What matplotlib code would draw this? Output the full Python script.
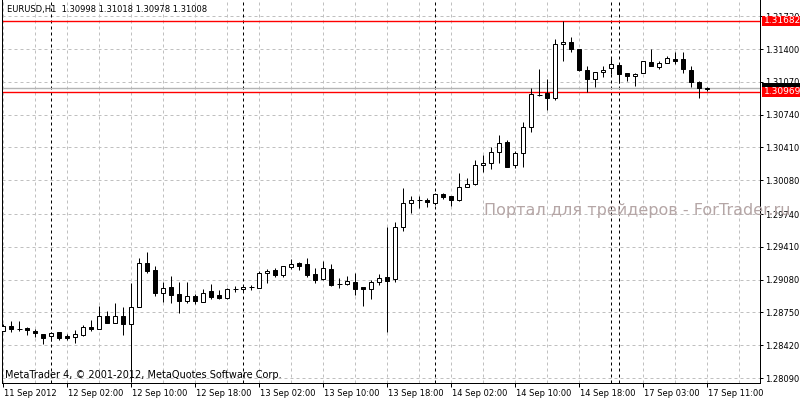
import matplotlib
matplotlib.use("Agg")
import matplotlib.pyplot as plt
from matplotlib.patches import Rectangle
from matplotlib import transforms

# EURUSD H1, one bar per hour, 11 Sep 2012 18:00 .. 17 Sep 2012 11:00
opens = [1.28566, 1.28613, 1.28586, 1.28593, 1.28566, 1.28530, 1.28510, 1.28550, 1.28513, 1.28506,
         1.28520, 1.28600, 1.28586, 1.28711, 1.28646, 1.28711, 1.28630, 1.28807, 1.29244, 1.29174,
         1.28948, 1.29003, 1.28935, 1.28865, 1.28915, 1.28858, 1.28965, 1.28925, 1.28898, 1.28988,
         1.28982, 1.29003, 1.28999, 1.29143, 1.29174, 1.29129, 1.29210, 1.29244, 1.29237, 1.29133,
         1.29083, 1.29184, 1.29033, 1.29033, 1.29053, 1.29006, 1.28982, 1.29053, 1.29103, 1.29083,
         1.29606, 1.29848, 1.29881, 1.29881, 1.29848, 1.29938, 1.29921, 1.29878, 1.30015, 1.30045,
         1.30230, 1.30250, 1.30364, 1.30461, 1.30233, 1.30351, 1.30612, 1.30940, 1.30957, 1.30904,
         1.31447, 1.31467, 1.31397, 1.31189, 1.31101, 1.31166, 1.31204, 1.31239, 1.31156, 1.31125,
         1.31156, 1.31269, 1.31222, 1.31262, 1.31300, 1.31300, 1.31189, 1.31068, 1.30998]
highs = [1.28633, 1.28663, 1.28663, 1.28600, 1.28580, 1.28533, 1.28553, 1.28552, 1.28536, 1.28573,
         1.28620, 1.28674, 1.28814, 1.28764, 1.28845, 1.28804, 1.29049, 1.29294, 1.29355, 1.29217,
         1.29053, 1.29116, 1.29053, 1.29056, 1.28935, 1.28985, 1.29036, 1.28975, 1.28999, 1.29013,
         1.29023, 1.29026, 1.29164, 1.29187, 1.29194, 1.29220, 1.29284, 1.29254, 1.29294, 1.29194,
         1.29267, 1.29234, 1.29093, 1.29113, 1.29143, 1.29010, 1.29073, 1.29133, 1.29612, 1.29663,
         1.29999, 1.29921, 1.29921, 1.29898, 1.29954, 1.29948, 1.29923, 1.30153, 1.30099, 1.30283,
         1.30334, 1.30415, 1.30535, 1.30485, 1.30374, 1.30663, 1.31005, 1.31196, 1.31095, 1.31501,
         1.31682, 1.31518, 1.31400, 1.31229, 1.31168, 1.31232, 1.31323, 1.31242, 1.31158, 1.31162,
         1.31279, 1.31400, 1.31279, 1.31330, 1.31370, 1.31370, 1.31232, 1.31078, 1.31018]
lows = [1.28560, 1.28553, 1.28566, 1.28526, 1.28506, 1.28435, 1.28465, 1.28475, 1.28472, 1.28445,
        1.28513, 1.28563, 1.28580, 1.28640, 1.28644, 1.28526, 1.28050, 1.28801, 1.29149, 1.28918,
        1.28855, 1.28848, 1.28747, 1.28848, 1.28835, 1.28855, 1.28885, 1.28885, 1.28885, 1.28958,
        1.28958, 1.28972, 1.28995, 1.29049, 1.29106, 1.29106, 1.29184, 1.29180, 1.29109, 1.29049,
        1.29073, 1.29019, 1.28999, 1.29030, 1.28928, 1.28817, 1.28888, 1.29026, 1.28556, 1.29059,
        1.29572, 1.29753, 1.29797, 1.29813, 1.29831, 1.29891, 1.29820, 1.29875, 1.30013, 1.30035,
        1.30166, 1.30196, 1.30256, 1.30210, 1.30200, 1.30210, 1.30568, 1.30927, 1.30786, 1.30887,
        1.31279, 1.31373, 1.31182, 1.30969, 1.31021, 1.31121, 1.31149, 1.31061, 1.31081, 1.31031,
        1.31154, 1.31232, 1.31202, 1.31255, 1.31249, 1.31156, 1.31015, 1.30910, 1.30978]
closes = [1.28613, 1.28586, 1.28588, 1.28570, 1.28540, 1.28492, 1.28546, 1.28492, 1.28492, 1.28530,
          1.28600, 1.28580, 1.28711, 1.28646, 1.28711, 1.28633, 1.28801, 1.29244, 1.29170, 1.28948,
          1.28992, 1.28925, 1.28865, 1.28915, 1.28868, 1.28948, 1.28905, 1.28898, 1.28985, 1.28990,
          1.29003, 1.29005, 1.29146, 1.29164, 1.29129, 1.29217, 1.29237, 1.29220, 1.29129, 1.29079,
          1.29194, 1.29026, 1.29035, 1.29063, 1.28988, 1.28982, 1.29053, 1.29096, 1.29069, 1.29606,
          1.29848, 1.29878, 1.29882, 1.29858, 1.29938, 1.29914, 1.29878, 1.30015, 1.30045, 1.30230,
          1.30253, 1.30364, 1.30454, 1.30216, 1.30351, 1.30612, 1.30947, 1.30943, 1.30910, 1.31450,
          1.31467, 1.31397, 1.31189, 1.31101, 1.31166, 1.31189, 1.31249, 1.31146, 1.31131, 1.31149,
          1.31277, 1.31234, 1.31256, 1.31307, 1.31282, 1.31202, 1.31071, 1.31011, 1.31008]

time_labels = ["11 Sep 2012", "12 Sep 02:00", "12 Sep 10:00", "12 Sep 18:00", "13 Sep 02:00",
               "13 Sep 10:00", "13 Sep 18:00", "14 Sep 02:00", "14 Sep 10:00", "14 Sep 18:00",
               "17 Sep 03:00", "17 Sep 11:00"]
label_bars = [0, 8, 16, 24, 32, 40, 48, 56, 64, 72, 80, 88]
price_ticks = [1.31730, 1.31400, 1.31070, 1.30740, 1.30410, 1.30080,
               1.29740, 1.29410, 1.29080, 1.28750, 1.28420, 1.28090]
day_separators = [6, 30, 54, 76, 77]
user_levels = [1.31682, 1.30969]
bid = 1.31008

FONT = "DejaVu Sans"
px = 0.72  # one pixel in points at 100 dpi

fig = plt.figure(figsize=(8, 4), dpi=100)
ax = fig.add_axes([2 / 800, 17 / 400, 758 / 800, 383 / 400])
ax.set_xlim(-0.16, 94.6)
ax.set_ylim(1.28040, 1.31893)

# grid
for p in price_ticks:
    ax.axhline(p, color="#c0c0c0", lw=px, ls=(0, (3, 3)), zorder=0)
for b in range(0, 96, 4):
    if b not in day_separators:
        ax.axvline(b, color="#c0c0c0", lw=px, ls=(0, (3, 3)), zorder=0)
for b in day_separators:
    ax.axvline(b, color="black", lw=px, ls=(0, (3, 3)), zorder=0.5)

# horizontal levels
for p in user_levels:
    ax.axhline(p, color="#ff0000", lw=1.0, zorder=1)
ax.axhline(bid, color="#b4b4b4", lw=1.0, zorder=0.8)

# candles
for i in range(len(opens)):
    o, h, l, c = opens[i], highs[i], lows[i], closes[i]
    ax.vlines(i, l, h, color="black", lw=px, zorder=2)
    if abs(c - o) < 0.00004:
        ax.hlines(o, i - 0.3, i + 0.3, color="black", lw=px, zorder=3)
    else:
        face = "white" if c > o else "black"
        ax.add_patch(Rectangle((i - 0.25, min(o, c)), 0.5, abs(c - o),
                               facecolor=face, edgecolor="black", lw=px, zorder=3))

# axes look
ax.spines["top"].set_visible(False)
for s in ["left", "right", "bottom"]:
    ax.spines[s].set_linewidth(px)
ax.yaxis.tick_right()
ax.set_yticks(price_ticks)
ax.set_yticklabels(["%.5f" % p for p in price_ticks], fontsize=6, family=FONT)
ax.tick_params(axis="y", length=2, width=px, pad=2)
ax.set_xticks(label_bars)
ax.set_xticklabels(time_labels, fontsize=6, family=FONT, ha="left")
ax.tick_params(axis="x", length=3, width=px, pad=1)
offset = transforms.ScaledTranslation(1 / 100, 0, fig.dpi_scale_trans)
for lab in ax.get_xticklabels():
    lab.set_transform(lab.get_transform() + offset)

# texts
ax.text(0.006, 0.988, "EURUSD,H1  1.30998 1.31018 1.30978 1.31008", transform=ax.transAxes,
        fontsize=6, family=FONT, va="top", ha="left", zorder=5)
fig.text(5 / 800, 1 - 375 / 400, "MetaTrader 4, \u00a9 2001-2012, MetaQuotes Software Corp.",
         fontsize=7, family=FONT, va="center", ha="left", zorder=5)
fig.text(484 / 800, 1 - 211 / 400, "Портал для трейдеров - ForTrader.ru",
         fontsize=11.5, family=FONT, color="#b5a6a6", va="center", ha="left", zorder=6)

# price labels on the right scale (bid label sits mostly under the red one)
tr = transforms.blended_transform_factory(fig.transFigure, ax.transData)
box_h = 10 * 0.00010061
fig.add_artist(Rectangle((762 / 800, bid - box_h / 2), 38 / 800, box_h, transform=tr,
                         facecolor="black", edgecolor="none", zorder=4))
for p in user_levels:
    fig.add_artist(Rectangle((762 / 800, p - box_h / 2), 38 / 800, box_h, transform=tr,
                             facecolor="#ff0000", edgecolor="none", zorder=4))
    fig.text(764 / 800, p, "%.5f" % p, transform=tr, color="white", fontsize=6.5,
             family=FONT, va="center", ha="left", zorder=4.5)

fig.savefig("out.png", dpi=100)
